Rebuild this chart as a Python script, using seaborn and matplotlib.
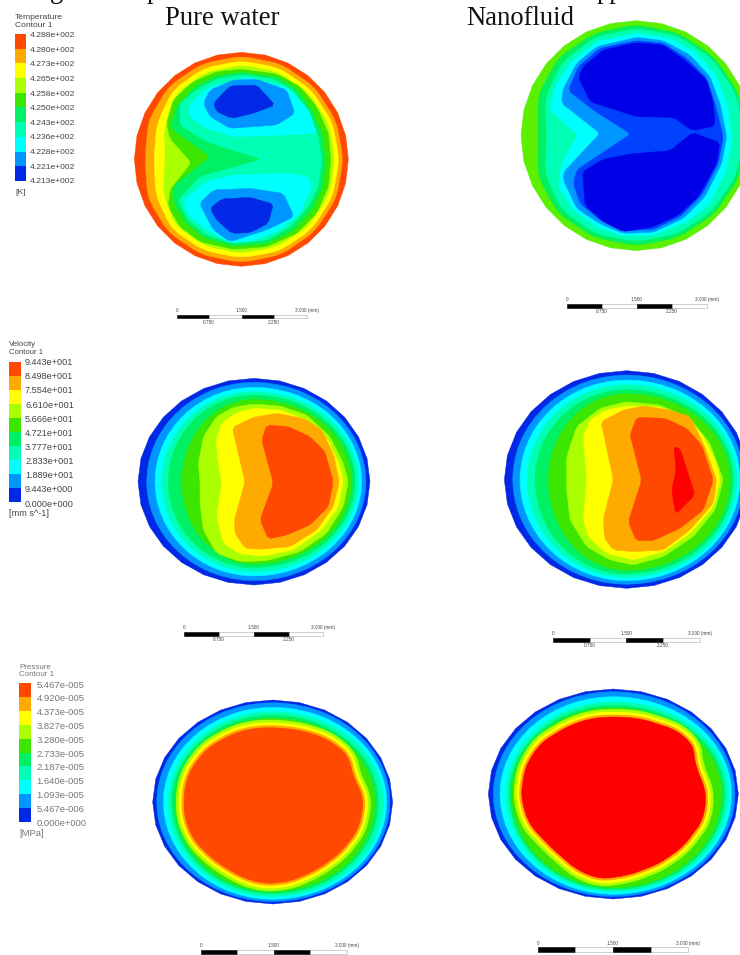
import numpy as np
import matplotlib
matplotlib.use("Agg")
import matplotlib.pyplot as plt
from matplotlib.colors import ListedColormap
import seaborn as sns

sns.set_theme(style="white")
plt.rcParams["font.family"] = ["Liberation Sans", "DejaVu Sans"]

# ------------------------------------------------------------------ data
LEVEL_COLOURS = ["#0028e6", "#0096ff", "#00ffff", "#00ffb4", "#00f064",
                 "#3ce600", "#aaff00", "#ffff00", "#ffaa00", "#ff4800", "#ff0000"]
DEEP_BLUE = "#0000e6"
MID_BLUE = "#0040ff"

TEMP_LABELS = ["4.288e+002", "4.280e+002", "4.273e+002", "4.265e+002", "4.258e+002", "4.250e+002",
               "4.243e+002", "4.236e+002", "4.228e+002", "4.221e+002", "4.213e+002"]
VEL_LABELS = ["9.443e+001", "8.498e+001", "7.554e+001", "6.610e+001", "5.666e+001", "4.721e+001",
              "3.777e+001", "2.833e+001", "1.889e+001", "9.443e+000", "0.000e+000"]
PRES_LABELS = ["5.467e-005", "4.920e-005", "4.373e-005", "3.827e-005", "3.280e-005", "2.733e-005",
               "2.187e-005", "1.640e-005", "1.093e-005", "5.467e-006", "0.000e+000"]
SCALE_MM = [0.0, 0.75, 1.5, 2.25, 3.0]
SCALE_TOP = ["0", "1.500", "3.000 (mm)"]
SCALE_BOTTOM = ["0.750", "2.250"]

# --- Temperature, pure water: radii every 22.5 deg clockwise from east
T1_C = (724, 478)
T1_R9 = [321] * 28
T1_R8 = [306, 308, 309, 310, 310, 310, 310, 304, 289, 302, 309, 310, 310, 310, 309, 307]
T1_R7 = [294, 296, 298, 298, 296, 296, 296, 278, 262, 275, 292, 296, 296, 297, 296, 295]
T1_R6 = [281, 283, 284, 283, 282, 282, 280, 255, 228, 250, 278, 282, 283, 284, 283, 282]
T1_L5 = [(724,208),(830,222),(900,260),(950,320),(985,400),(992,480),(985,560),(950,640),(890,700),(800,740),
         (700,748),(600,725),(540,680),(505,620),(510,570),(575,488),(510,415),(500,370),(520,300),(580,245),(650,215)]
T1_L4 = [(724,217),(830,232),(890,268),(935,330),(965,400),(978,480),(968,560),(935,630),(880,690),(800,730),
         (700,738),(610,712),(555,665),(522,610),(520,558),(632,470),(520,390),(515,375),(530,320),(585,260),(650,228)]
T1_L3 = [(724,224),(820,238),(880,272),(925,335),(952,400),(965,480),(955,560),(925,620),(870,680),(800,720),
         (700,730),(620,705),(565,660),(535,600),(600,530),(785,478),(620,425),(540,375),(540,310),(590,270),(650,238)]
T1_L2A = [(565,320),(620,265),(740,232),(860,262),(925,330),(950,400),(850,405),(700,410),(620,385),(570,350)]
T1_L2B = [(550,600),(620,545),(700,525),(860,520),(925,530),(935,560),(900,640),(840,690),(760,722),(690,728),(620,690),(560,640)]
T1_L1A = [(610,310),(630,270),(700,240),(770,238),(860,270),(885,340),(830,375),(690,385),(630,350)]
T1_L1B = [(598,610),(640,570),(750,565),(850,580),(882,650),(800,690),(690,725),(640,690)]
T1_L0A = [(640,310),(690,258),(770,255),(825,315),(760,340),(695,355),(650,335)]
T1_L0B = [(630,625),(665,597),(750,592),(820,612),(805,670),(750,698),(695,700),(650,660)]

# --- Temperature, nanofluid
T2_C = (798, 407)
T2_R5 = [345] * 28
T2_R4 = [333, 333, 332, 331, 330, 330, 330, 318, 293, 318, 330, 332, 333, 333, 333, 333]
T2_R3 = [325, 323, 321, 319, 318, 318, 315, 295, 268, 295, 312, 320, 322, 324, 325, 325]
T2_L2 = [(800,100),(900,115),(980,160),(1040,230),(1075,320),(1085,420),(1070,510),(1020,610),(950,665),(850,705),
         (760,708),(680,680),(610,630),(565,560),(575,490),(622,405),(540,330),(555,260),(600,190),(680,125)]
T2_L1 = [(800,112),(880,122),(960,165),(1020,230),(1050,310),(1070,410),(1055,490),(1005,590),(940,655),(850,697),
         (760,700),(690,672),(620,625),(580,540),(582,515),(690,400),(575,310),(578,270),(620,190),(680,140)]
T2_LB = [(800,122),(880,130),(950,175),(1010,235),(1035,310),(1060,410),(1045,490),(995,585),(930,650),(850,688),
         (760,692),(690,660),(630,610),(610,550),(620,510),(782,402),(670,330),(595,272),(625,200),(690,145)]
T2_L0A = [(800,128),(880,135),(950,185),(1010,240),(1030,310),(1035,378),(968,392),(910,352),(800,350),(660,305),
          (625,230),(640,200),(700,150)]
T2_L0B = [(968,398),(1050,428),(1040,490),(985,590),(925,645),(850,680),(760,695),(700,665),(645,615),(638,515),
          (700,478),(780,462),(900,452)]

# --- Velocity, pure water: (E, S, W, N) half-widths
V1_C = (762, 455)
V1_OVALS = [(348,310,348,310), (336,297,322,298), (323,283,297,283), (313,270,277,270), (303,258,257,260), (293,247,217,247)]
V1_L6 = [(760,222),(840,228),(920,255),(990,320),(1030,400),(1045,455),(1030,530),(980,610),(900,665),(800,692),
         (720,695),(650,670),(610,600),(600,520),(600,455),(595,400),(610,320),(650,260),(700,232)]
V1_L7 = [(760,235),(840,240),(920,270),(985,330),(1020,410),(1030,455),(1015,530),(965,600),(880,660),(790,678),
         (720,672),(670,640),(650,560),(665,460),(655,400),(648,330),(665,280),(710,248)]
V1_L8 = [(697,292),(760,262),(830,250),(910,265),(965,300),(1000,370),(1018,455),(1000,530),(950,600),(870,650),
         (780,658),(735,655),(705,610),(703,570),(735,455),(705,330)]
V1_L9 = [(800,285),(865,290),(930,320),(975,365),(1000,455),(985,530),(930,585),(860,615),(805,627),(780,570),(820,460),(785,330)]

# --- Velocity, nanofluid
V2_C = (770, 449)
V2_OVALS = [(365,326,367,327), (352,314,342,314), (340,303,320,299), (330,293,298,285), (320,283,275,270), (310,272,235,258)]
V2_L6 = [(770,215),(870,225),(960,265),(1020,340),(1060,450),(1035,540),(970,620),(880,680),(790,705),(720,690),
         (650,650),(600,570),(590,480),(590,380),(620,290),(690,235)]
V2_L7 = [(770,228),(870,232),(950,260),(1000,320),(1040,400),(1050,450),(1030,530),(960,610),(880,665),(790,690),
         (710,670),(655,620),(640,570),(650,450),(640,320),(660,270),(710,240)]
V2_L8 = [(693,275),(760,240),(820,228),(900,240),(960,260),(1000,340),(1040,450),(1030,520),(960,600),(880,660),
         (790,665),(730,660),(703,625),(700,565),(730,450)]
V2_L9 = [(800,262),(885,265),(950,295),(995,345),(1030,450),(1000,540),(930,595),(850,632),(798,632),(775,575),(815,450),(780,315)]
V2_L10 = [(912,350),(930,355),(975,495),(917,553),(905,480),(918,420)]

# --- Pressure, pure water
P1_C = (818, 456)
P1_OVALS = [(360,306,360,306), (352,299,348,298), (342,292,328,284), (332,284,313,271), (317,276,303,261), (307,269,293,251)]
P1_CORE = [(820,232),(900,240),(980,265),(1045,315),(1060,380),(1085,430),(1090,470),(1075,540),(1020,610),(950,660),
           (870,695),(790,702),(720,680),(640,630),(580,570),(552,500),(552,420),(570,360),(620,295),(700,250),(760,235)]

# --- Pressure, nanofluid
P2_C = (640, 432)
P2_OVALS = [(375,315,375,315), (365,308,360,307), (355,301,340,292), (345,293,322,277), (335,287,312,267), (325,281,305,258)]
P2_CORE = [(640,200),(720,205),(830,240),(880,285),(885,340),(920,430),(910,510),(850,590),(780,640),(690,675),
           (600,688),(530,660),(450,590),(385,520),(362,440),(375,350),(420,280),(500,230),(570,205)]

# ---------------------------------------------------------------- helpers
W, H = 740, 955
fig = plt.figure(figsize=(W / 100, H / 100), dpi=100, facecolor="white")


def panel(x, y, w, h):
    """Axes over a reference crop; its scale is 3 units per figure pixel."""
    ax = fig.add_axes([x / W, 1 - (y + h) / H, w / W, h / H])
    ax.set_xlim(0, w * 3)
    ax.set_ylim(h * 3, 0)
    ax.axis("off")
    return ax


def round_corners(pts, d, passes):
    """Trim each polygon corner by at most d units, so tips stay sharp-looking."""
    p = np.asarray(pts, float)
    for _ in range(passes):
        nxt = np.roll(p, -1, axis=0) - p
        prv = np.roll(p, 1, axis=0) - p
        ln = np.linalg.norm(nxt, axis=1, keepdims=True)
        lp = np.linalg.norm(prv, axis=1, keepdims=True)
        a = p + prv / lp * np.minimum(d, 0.25 * lp)
        b = p + nxt / ln * np.minimum(d, 0.25 * ln)
        p = np.stack([a, b], axis=1).reshape(-1, 2)
        d = d / 2
    return p


def ring(c, radii):
    t = np.linspace(0, 2 * np.pi, len(radii), endpoint=False)
    r = np.asarray(radii, float)
    return np.c_[c[0] + r * np.cos(t), c[1] + r * np.sin(t)]


def oval(c, extents, n=60):
    e, s, w, north = extents
    t = np.linspace(0, 2 * np.pi, n, endpoint=False)
    ct, st = np.cos(t), np.sin(t)
    return np.c_[c[0] + np.where(ct > 0, e, w) * ct, c[1] + np.where(st > 0, s, north) * st]


def fill(ax, pts, colour, stroke=0.3):
    p = np.asarray(pts, float)
    ax.fill(p[:, 0], p[:, 1], facecolor=colour, edgecolor=colour, lw=stroke,
            joinstyle="round", clip_on=False)


def facet(ax, pts, colour):
    fill(ax, round_corners(pts, 8, 1), colour)


def soft(ax, pts, colour, stroke=0.3):
    fill(ax, round_corners(pts, 18, 2), colour, stroke)


def legend(x, y, w, h, n=10):
    ax = fig.add_axes([x / W, 1 - (y + h) / H, w / W, h / H])
    rows = np.arange(n)[::-1].reshape(-1, 1)
    sns.heatmap(rows, ax=ax, cmap=ListedColormap(LEVEL_COLOURS[:n]), vmin=-0.5, vmax=n - 0.5,
                cbar=False, xticklabels=False, yticklabels=False)


def legend_text(ax, title, x_title, ys_title, labels, x_lab, y0, dy, unit, y_unit, size, colour, title_size):
    ax.text(x_title, ys_title[0], title, fontsize=title_size, color=colour, va="center", ha="left")
    ax.text(x_title, ys_title[1], "Contour 1", fontsize=title_size, color=colour, va="center", ha="left")
    for i, lab in enumerate(labels):
        ax.text(x_lab, y0 + i * dy, lab, fontsize=size, color=colour, va="center", ha="left")
    ax.text(x_title, y_unit, unit, fontsize=size, color=colour, va="center", ha="left")


def scale_bar(ax, x0, x1, y0, y1, y_top, y_bot):
    mm = np.asarray(SCALE_MM)
    xs = x0 + (x1 - x0) * mm / mm[-1]
    for i in range(4):
        ax.bar(xs[i], y1 - y0, width=xs[i + 1] - xs[i], bottom=y0, align="edge",
               color="black" if i % 2 == 0 else "white",
               edgecolor="black" if i % 2 == 0 else "#aaaaaa", lw=0.4)
    for x, lab in zip(xs[[0, 2, 4]], SCALE_TOP):
        ax.text(x, y_top, lab, fontsize=3.4, color="#444444", ha="center", va="center")
    if y_bot is not None:
        for x, lab in zip(xs[[1, 3]], SCALE_BOTTOM):
            ax.text(x, y_bot, lab, fontsize=3.4, color="#444444", ha="center", va="center")


C = LEVEL_COLOURS
SERIF = "Liberation Serif"

# ------------------------------------------------------------ panel 1
a1 = panel(0, 0, 370, 330)
fill(a1, ring(T1_C, T1_R9), C[9])
for r, lev in ((T1_R8, 8), (T1_R7, 7), (T1_R6, 6)):
    soft(a1, ring(T1_C, r), C[lev])
for pts, lev in ((T1_L5, 5), (T1_L4, 4), (T1_L3, 3), (T1_L2A, 2), (T1_L2B, 2),
                 (T1_L1A, 1), (T1_L1B, 1), (T1_L0A, 0), (T1_L0B, 0)):
    facet(a1, pts, C[lev])
legend(15, 34, 11, 147)
legend_text(a1, "Temperature", 45, (53, 76), TEMP_LABELS, 90, 107, 43.8, "[K]", 577, 6.1, "#444444", 6.1)
scale_bar(a1, 530, 920, 945, 955, 932, 967)
a1.text(495, 75, "Pure water", family=SERIF, fontsize=19.2, color="#111111", va="baseline", ha="left")
# the clipped caption line above the figure: only its descenders show
for x_cap, frag in ((150, "g"), (441, "p")):
    a1.text(x_cap, -6, frag, family=SERIF, fontsize=19.2, color="#111111", va="baseline", ha="left")

# ------------------------------------------------------------ panel 2
a2 = panel(370, 0, 370, 330)
fill(a2, ring(T2_C, T2_R5), "#5af000")
for r, lev in ((T2_R4, 4), (T2_R3, 3)):
    soft(a2, ring(T2_C, r), C[lev])
facet(a2, T2_L2, C[2])
facet(a2, T2_L1, C[1])
facet(a2, T2_LB, MID_BLUE)
facet(a2, T2_L0A, DEEP_BLUE)
facet(a2, T2_L0B, DEEP_BLUE)
scale_bar(a2, 590, 1010, 911, 925, 897, 935)
a2.text(288, 75, "Nanofluid", family=SERIF, fontsize=19.2, color="#111111", va="baseline", ha="left")
a2.text(681, -6, "pp", family=SERIF, fontsize=19.2, color="#111111", va="baseline", ha="left")

# ------------------------------------------------------------ panel 3
a3 = panel(0, 330, 370, 320)
fill(a3, oval(V1_C, V1_OVALS[0], 28), C[0])
for lev, ext in enumerate(V1_OVALS[1:], start=1):
    fill(a3, oval(V1_C, ext), C[lev])
for pts, lev in ((V1_L6, 6), (V1_L7, 7), (V1_L8, 8), (V1_L9, 9)):
    facet(a3, pts, C[lev])
legend(9, 362, 12, 140)
legend_text(a3, "Velocity", 28, (44, 68), VEL_LABELS, 75, 98, 42.4, "[mm s^-1]", 550, 6.6, "#444444", 5.6)
scale_bar(a3, 552, 970, 906, 918, 893, 927)

# ------------------------------------------------------------ panel 4
a4 = panel(370, 330, 370, 320)
fill(a4, oval(V2_C, V2_OVALS[0], 28), C[0])
for lev, ext in enumerate(V2_OVALS[1:], start=1):
    fill(a4, oval(V2_C, ext), C[lev])
for pts, lev in ((V2_L6, 6), (V2_L7, 7), (V2_L8, 8), (V2_L9, 9), (V2_L10, 10)):
    facet(a4, pts, C[lev])
scale_bar(a4, 548, 990, 923, 935, 910, 946)

# ------------------------------------------------------------ panel 5
a5 = panel(0, 650, 400, 305)
fill(a5, oval(P1_C, P1_OVALS[0], 28), C[0])
for lev, ext in enumerate(P1_OVALS[1:], start=1):
    fill(a5, oval(P1_C, ext), C[lev])
for lev, stroke in ((6, 11.5), (7, 7.5), (8, 3.5)):
    soft(a5, P1_CORE, C[lev], stroke)
soft(a5, P1_CORE, C[9])
legend(19, 683, 12, 139)
legend_text(a5, "Pressure", 58, (52, 75), PRES_LABELS, 110, 105, 41.5, "[MPa]", 550, 6.8, "#777777", 5.8)
scale_bar(a5, 603, 1040, 900, 912, 887, None)

# ------------------------------------------------------------ panel 6
a6 = panel(400, 650, 340, 305)
fill(a6, oval(P2_C, P2_OVALS[0], 28), C[0])
for lev, ext in enumerate(P2_OVALS[1:], start=1):
    fill(a6, oval(P2_C, ext), C[lev])
for lev, stroke in ((6, 11.5), (7, 7.5), (8, 3.5)):
    soft(a6, P2_CORE, C[lev], stroke)
soft(a6, P2_CORE, C[10])
scale_bar(a6, 413, 865, 892, 905, 880, None)

fig.savefig("out.png", dpi=100, facecolor="white")
